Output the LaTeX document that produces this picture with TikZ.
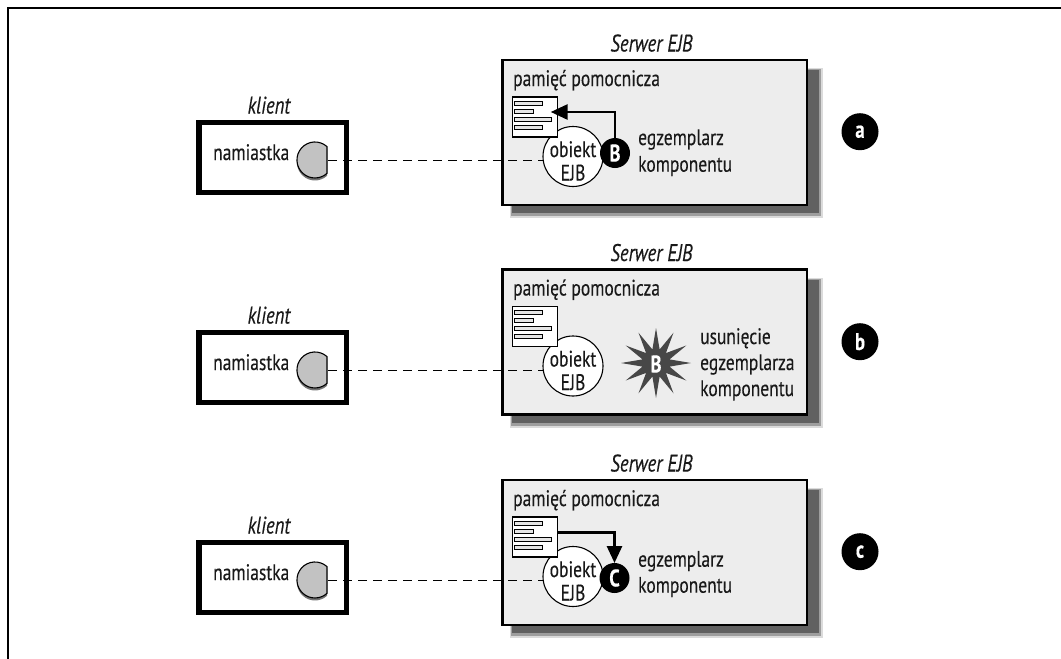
\documentclass[tikz,border=0pt]{standalone}
\usepackage{fontspec}
\setmainfont[FakeStretch=0.78,FakeBold=0.25]{PT Sans}
\usetikzlibrary{arrows.meta,shapes.geometric}
\tikzset{
 lab/.style={font=\fontsize{22.4}{24}\selectfont,inner sep=0pt,text=black!90,anchor=base west},
 cen/.style={font=\fontsize{22.4}{24}\selectfont,inner sep=0pt,text=black!90,anchor=base},
 ital/.style={font=\fontsize{24}{26}\selectfont\itshape,inner sep=0pt,text=black!90,anchor=base},
 client/.style={draw=black,line width=5.5pt,fill=white,outer sep=0pt,inner sep=0pt,anchor=north west,minimum width=147.5pt,minimum height=70pt},
 server/.style={draw=black,line width=2.8pt,fill=black!7,outer sep=0pt,inner sep=0pt,anchor=north west,minimum width=304.5pt,minimum height=145pt},
 doc/.style={draw=black,line width=1.1pt,fill=white},
 bar/.style={draw=black,line width=.9pt,fill=black!10},
 obj/.style={circle,draw=black,line width=1.1pt,fill=white,minimum size=60pt,inner sep=0pt,outer sep=0pt},
 blk/.style={circle,fill=black,minimum size=30pt,inner sep=0pt,outer sep=0pt,text=white,font=\fontsize{24}{24}\selectfont\bfseries},
 tag/.style={circle,fill=black,minimum size=37pt,inner sep=0pt,outer sep=0pt,text=white,font=\fontsize{24}{24}\selectfont\bfseries},
 link/.style={dash pattern=on 9pt off 6pt,line width=.9pt},
 flow/.style={line width=2.8pt,-{Triangle[length=17pt,width=15pt]}},
}
\newcommand{\clientblock}[2]{%
 \node[client] (cl#1) at (199,#2) {};
 \node[lab] at (213,#2+37.5) {namiastka};
 \node[ital] at (269,#2-9) {klient};
 \fill[black!55] (327,#2+26.6) arc[start angle=-48,end angle=-312,radius=18] -- cycle;
 \draw[fill=black!24,line width=1.1pt] (327,#2+24.1) arc[start angle=-48,end angle=-312,radius=18] -- cycle;
 \coordinate (st#1) at (328,#2+37.5);
}
\newcommand{\serverblock}[2]{%
 \fill[black!14] (510,#2+8) rectangle (823,#2+158);
 \fill[black!38] (511,#2+9) rectangle (821,#2+156);
 \fill[black!62] (512,#2+10) rectangle (818.5,#2+153);
 \node[server] (sv#1) at (502.5,#2) {};
 \node[ital] at (651.5,#2-8.5) {Serwer EJB};
 \node[lab] at (513,#2+26) {pamięć pomocnicza};
 \node[obj] (ob#1) at (573,#2+96.5) {};
 \node[cen] at (573,#2+97) {obiekt};
 \node[cen] at (573,#2+120.5) {EJB};
 \draw[doc] (512.7,#2+37) -- (557.7,#2+37) coordinate (dc#1) -- (557.7,#2+77) -- (512.7,#2+77) -- cycle;
 \draw[bar] (514.8,#2+41) rectangle (542,#2+45);
 \draw[bar] (514.8,#2+49) rectangle (533.5,#2+53);
 \draw[bar] (514.8,#2+57) rectangle (551.5,#2+61);
 \draw[bar] (514.8,#2+65) rectangle (542,#2+69);
}
\begin{document}
\begin{tikzpicture}[x=1pt,y=-1pt]
\useasboundingbox (0,0) rectangle (1061,659);
\coordinate (fa) at (8,659);
\coordinate (fb) at (8,7.7);
\coordinate (fc) at (1061,7.7);
\draw[line width=2pt] (fa) -- (fb) -- (fc);
% a
\clientblock{a}{122.5}
\serverblock{a}{60}
\node[blk] (xa) at (615,153) {B};
\coordinate (ca) at (615,112);
\coordinate (ea) at (550.7,112);
\draw[flow] (xa.north) -- (ca) -- (ea);
\node[lab] at (638,145) {egzemplarz};
\node[lab] at (638,171.7) {komponentu};
\node[tag] (ta) at (860,131.7) {a};
\draw[link] (sta) -- (sta -| oba.west);
% b
\clientblock{b}{332.5}
\serverblock{b}{269.5}
\node[star,star points=12,star point ratio=2.5,minimum size=70pt,inner sep=0pt,fill=black!72] (xb) at (656,363) {};
\node[text=white,font=\fontsize{24}{24}\selectfont\bfseries] at (656,364) {B};
\node[lab] at (700,344) {usunięcie};
\node[lab] at (700,370) {egzemplarza};
\node[lab] at (700,396) {komponentu};
\node[tag] (tb) at (860,341.7) {b};
\draw[link] (stb) -- (stb -| obb.west);
% c
\clientblock{c}{542.5}
\serverblock{c}{480}
\node[blk] (xc) at (614.5,578) {C};
\coordinate (cc) at (614.5,532.7);
\coordinate (dd) at (557.7,532.7);
\draw[flow] (dd) -- (cc) -- (xc.north);
\node[lab] at (638,566.7) {egzemplarz};
\node[lab] at (638,592.7) {komponentu};
\node[tag] (tc) at (860,551.7) {c};
\draw[link] (stc) -- (stc -| obc.west);
\end{tikzpicture}
\end{document}
